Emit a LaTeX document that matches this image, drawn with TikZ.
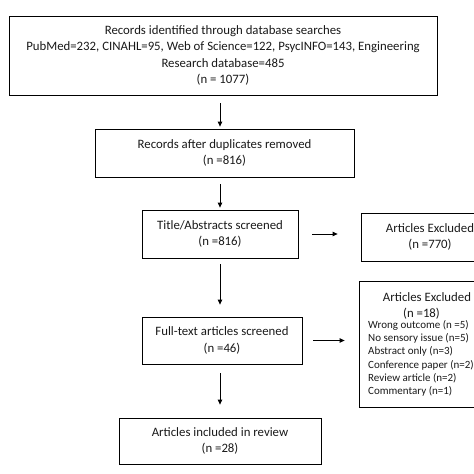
\documentclass[tikz,border=0pt]{standalone}
\usepackage{fontspec}
\setmainfont{Carlito}
\usetikzlibrary{arrows.meta}
\tikzset{
  box/.style={draw=black, line width=0.8pt, inner sep=0pt, align=center, font=\fontsize{12.8}{16.2}\selectfont, text=black!90},
  txt/.style={inner sep=0pt, font=\fontsize{12.8}{16}\selectfont, text=black!90},
  small/.style={inner sep=0pt, align=left, font=\fontsize{11}{13.3}\selectfont, text=black!90},
  arr/.style={line width=0.8pt, -{Triangle[length=5pt,width=4.5pt]}}
}
\begin{document}
\begin{tikzpicture}[x=1pt,y=-1pt]
\useasboundingbox (0,0) rectangle (474,474);
\clip (0,0) rectangle (474,474);
\node[box, minimum width=428pt, minimum height=79pt] (b1) at (223,55.5)
  {Records identified through database searches\\PubMed=232, CINAHL=95, Web of Science=122, PsycINFO=143, Engineering\\Research database=485\\(n = 1077)};
\node[box, minimum width=259pt, minimum height=48pt] (b2) at (224.5,153)
  {Records after duplicates removed\\(n =816)};
\node[box, minimum width=156pt, minimum height=48pt] (b3) at (220,234)
  {Title/Abstracts screened\\(n =816)};
\node[box, minimum width=138pt, minimum height=48pt] (e1) at (430,237)
  {Articles Excluded\\(n =770)};
\node[box, minimum width=160pt, minimum height=47pt] (b4) at (222,340.5)
  {Full-text articles screened\\(n =46)};
\node[box, minimum width=124pt, minimum height=126pt] (e2) at (421,344) {};
\node[txt, anchor=base] (e2t) at (427,301) {Articles Excluded};
\node[txt, anchor=base] (e2n) at (421.5,317) {(n =18)};
\node[small, anchor=north west] (e2l) at (368,320)
  {Wrong outcome (n =5)\\No sensory issue (n=5)\\Abstract only (n=3)\\Conference paper (n=2)\\Review article (n=2)\\Commentary (n=1)};
\node[box, minimum width=202pt, minimum height=46pt] (b5) at (220,441)
  {Articles included in review\\(n =28)};
\draw[arr, shorten <=8pt, shorten >=2pt] (b1.south -| b3.north) -- (b3.north |- b2.north);
\draw[arr, shorten <=7pt, shorten >=2pt] (b2.south -| b3.north) -- (b3.north);
\draw[arr, shorten <=14pt, shorten >=23pt] (b3.east) -- (b3.east -| e1.west);
\draw[arr, shorten <=6pt, shorten >=12pt] (b3.south) -- (b3.south |- b4.north);
\draw[arr, shorten <=11pt, shorten >=14pt] (b4.east) -- (b4.east -| e2.west);
\draw[arr, shorten <=9pt, shorten >=13pt] (b4.south -| b3.south) -- (b3.south |- b5.north);
\end{tikzpicture}
\end{document}
